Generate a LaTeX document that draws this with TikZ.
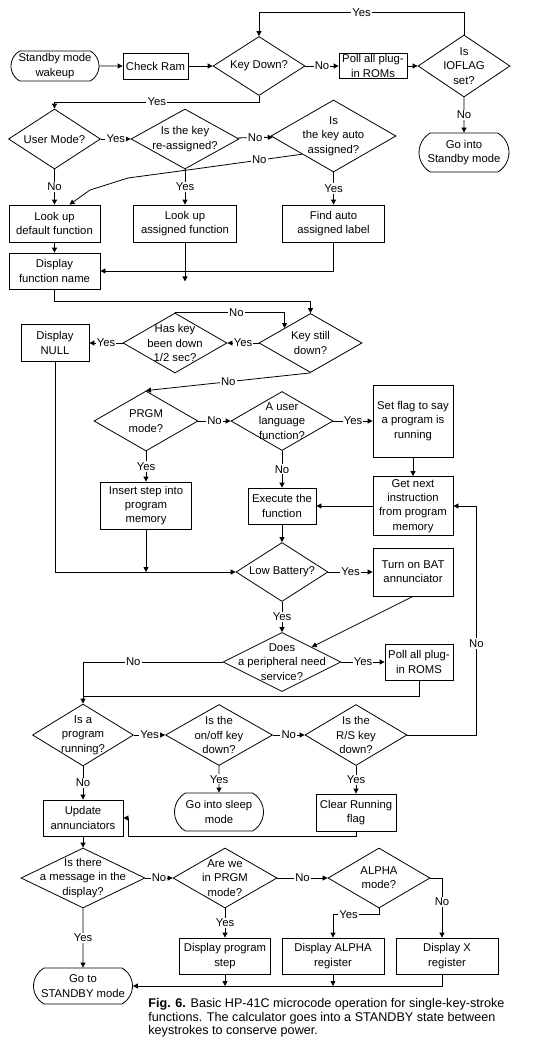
\documentclass[tikz,border=0pt]{standalone}
\usepackage{fontspec}
\setmainfont{Liberation Sans}
\usetikzlibrary{arrows.meta, calc, shapes.geometric, shapes.misc}
\tikzset{
    >={Triangle[length=5pt, width=5pt]}, % punte piene e piccole
    every node/.style={font=\fontsize{11.3}{14.3}\selectfont},
    process/.style={rectangle, draw, align=center, inner sep=1pt}, % blocchi
    terminal/.style={rounded rectangle, rounded rectangle arc length=120, draw, align=center, inner sep=1pt},
    decision/.style={diamond, draw, inner sep=0pt, label={[align=center]center:#1}}, % rombi
    wh/.style 2 args={minimum width=#1, minimum height=#2},
    yn/.style={fill=white, inner sep=1.2pt}, % etichette Yes/No
}

\begin{document}
\begin{tikzpicture}[x=1pt, y=-1pt, line width=0.8pt]
    \useasboundingbox (0,0) rectangle (551,1057);

    % Avvio e lettura tastiera
    \node[terminal, wh={90}{30}] (wake) at (55,66) {Standby mode\\wakeup};
    \node[process, wh={65}{26}] (ram) at (155.5,66) {Check Ram};
    \node[decision={Key Down?}, wh={92}{59}] (keydown) at (259,66) {};
    \node[process, wh={68}{25}] (poll) at (373,66) {Poll all plug-\\in ROMs};
    \node[decision={Is\\IOFLAG\\set?}, wh={92}{62}] (ioflag) at (464,66) {};
    \node[terminal, wh={92}{39}] (standby) at (464,152.5) {Go into\\Standby mode};

    % Ricerca della funzione
    \node[decision={User Mode?}, wh={92}{60}] (usermode) at (54.5,139) {};
    \node[decision={Is the key\\re-assigned?}, wh={108}{60}] (reassign) at (185,139) {};
    \node[decision={Is\\the key auto\\assigned?}, wh={125}{72}] (autoq) at (333.5,136) {};
    \node[process, wh={91}{37}] (default) at (54.5,223.5) {Look up\\default function};
    \node[process, wh={103}{37}] (assigned) at (185,223.5) {Look up\\assigned function};
    \node[process, wh={102}{37}] (autolbl) at (333.5,223.5) {Find auto\\assigned label};
    \node[process, wh={91}{36}] (dispname) at (54.5,271) {Display\\function name};

    % Tasto ancora premuto
    \node[decision={Key still\\down?}, wh={103}{59}] (still) at (310.5,343) {};
    \node[decision={Has key\\been down\\1/2 sec?}, wh={104}{60}] (halfsec) at (175,343) {};
    \node[process, wh={68}{37}] (null) at (55,343) {Display\\NULL};

    % Esecuzione
    \node[decision={PRGM\\mode?}, wh={104}{60}] (prgm) at (146,421) {};
    \node[decision={A user\\language\\function?}, wh={102}{59}] (userlang) at (282,421) {};
    \node[process, wh={80}{72}] (setflag) at (413,421) {Set flag to say\\a program is\\running};
    \node[process, wh={80}{59}] (getnext) at (413,506) {Get next\\instruction\\from program\\memory};
    \node[process, wh={68}{36}] (execute) at (282,506) {Execute the\\function};
    \node[process, wh={91}{47}] (insert) at (146,505.5) {Insert step into\\program\\memory};

    % Batteria e periferiche
    \node[decision={Low Battery?}, wh={92}{59}] (lowbat) at (282,572) {};
    \node[process, wh={80}{48}] (batann) at (413,572) {Turn on BAT\\annunciator};
    \node[decision={Does\\a peripheral need\\service?}, wh={118}{59}] (periph) at (282,662) {};
    \node[process, wh={68}{36}] (poll2) at (419,662) {Poll all plug-\\in ROMS};

    % Programma in corso
    \node[decision={Is a\\program\\running?}, wh={101}{62}] (running) at (83,735) {};
    \node[decision={Is the\\on/off key\\down?}, wh={107}{61}] (onoff) at (219,735) {};
    \node[decision={Is the\\R/S key\\down?}, wh={102}{61}] (rskey) at (356,735) {};
    \node[process, wh={80}{36}] (update) at (83,818) {Update\\annunciators};
    \node[terminal, wh={91}{38}] (sleep) at (219,812) {Go into sleep\\mode};
    \node[process, wh={80}{37}] (clear) at (356,812.5) {Clear Running\\flag};

    % Display
    \node[decision={Is there\\a message in the\\display?}, wh={124}{60}] (message) at (83,878) {};
    \node[decision={Are we\\in PRGM\\mode?}, wh={104}{60}] (areprgm) at (225,878) {};
    \node[decision={ALPHA\\mode?}, wh={102}{60}] (alpha) at (379,878) {};
    \node[process, wh={91}{36}] (dispstep) at (225,956) {Display program\\step};
    \node[process, wh={102}{36}] (dispalpha) at (333,956) {Display ALPHA\\register};
    \node[process, wh={102}{36}] (dispx) at (447,956) {Display X\\register};
    \node[terminal, wh={101}{36}] (gostandby) at (83,986) {Go to\\STANDBY mode};

    % Didascalia
    \node[anchor=north west, align=left, inner sep=0pt, font=\fontsize{12.6}{13.6}\selectfont] (caption) at (148,998) {\textbf{Fig. 6.} Basic HP-41C microcode operation for single-key-stroke\\functions. The calculator goes into a STANDBY state between\\keystrokes to conserve power.};

    % Collegamenti in alto
    \draw[->] (wake) -- (ram);
    \draw[->] (ram) -- (keydown);
    \draw[->] (keydown) -- node[yn]{No} (poll);
    \draw[->] (poll) -- (ioflag);
    \draw[->] (ioflag.north) -- ++(0,-22) -| node[yn, pos=0.25]{Yes} (keydown.north);
    \draw[->] (ioflag) -- node[yn]{No} (standby);
    \draw[->] (keydown.south) -- ++(0,6) -| node[yn, pos=0.25]{Yes} (usermode.north);
    \draw[->] (usermode) -- node[yn]{Yes} (reassign);
    \draw[->] (reassign) -- node[yn]{No} (autoq);
    \draw[->] (autoq.south west) -- node[yn, pos=0.4]{No} (195,169) -- (128,178) -- (90,190) -- ($(default.north)+(15,0)$);
    \draw[->] (usermode) -- node[yn]{No} (default);
    \draw[->] (reassign) -- node[yn]{Yes} (assigned);
    \draw[->] (autoq) -- node[yn]{Yes} (autolbl);
    \draw[->] (default) -- (dispname);
    \draw[->] (autolbl.south) |- (dispname.east);
    \coordinate (assignedend) at ($(assigned.south)+(0,39)$);
    \draw[->] (assigned) -- (assignedend);

    % Collegamenti centrali
    \draw[->] (dispname.south) -- ++(0,12) -| (still.north);
    \draw[->] (halfsec.north) -| node[yn, pos=0.28]{No} (still.north west);
    \draw[->] (still) -- node[yn]{Yes} (halfsec);
    \draw[->] (halfsec) -- node[yn]{Yes} (null);
    \draw[->] (null.south) |- (lowbat.west);
    \draw[->] (still.south) -- node[yn]{No} (prgm.north);
    \draw[->] (prgm) -- node[yn]{No} (userlang);
    \draw[->] (userlang) -- node[yn]{Yes} (setflag);
    \draw[->] (setflag) -- (getnext);
    \draw[->] (getnext) -- (execute);
    \draw[->] (userlang) -- node[yn]{No} (execute);
    \draw[->] (prgm) -- node[yn]{Yes} (insert);
    \draw[->] (insert.south) -- (insert.south |- lowbat.west);
    \draw[->] (execute) -- (lowbat);
    \draw[->] (lowbat) -- node[yn]{Yes} (batann);
    \draw[->] (batann.south) -- (periph.north east);
    \draw[->] (lowbat) -- node[yn]{Yes} (periph);
    \draw[->] (periph) -- node[yn]{Yes} (poll2);
    \draw[->] (periph.west) -| node[yn, pos=0.32]{No} (running.north);
    \draw (poll2.south) |- ($(running.north)+(0,-7)$);

    % Collegamenti in basso
    \draw[->] (running) -- node[yn]{Yes} (onoff);
    \draw[->] (onoff) -- node[yn]{No} (rskey);
    \draw[->] (rskey.east) -- ++(69,0) |- node[yn, pos=0.2]{No} (getnext.east);
    \draw[->] (running) -- node[yn]{No} (update);
    \draw[->] (onoff) -- node[yn]{Yes} (sleep);
    \draw[->] (rskey) -- node[yn]{Yes} (clear);
    \draw[->] (clear.south) -- ++(0,5) -| ($(update.east)+(5,0)$) -- (update.east);
    \draw[->] (update) -- (message);
    \draw[->] (message) -- node[yn]{No} (areprgm);
    \draw[->] (areprgm) -- node[yn]{No} (alpha);
    \draw[->] (alpha.east) -| node[yn, pos=0.7]{No} ($(dispx.north)+(-5,0)$);
    \draw[->] (alpha.south) -- ++(0,6) -| node[yn, pos=0.33]{Yes} (dispalpha.north);
    \draw[->] (areprgm) -- node[yn]{Yes} (dispstep);
    \draw[->] (message) -- node[yn]{Yes} (gostandby);
    \draw[->] ($(dispx.south)+(-5,0)$) |- (gostandby.east);
    \draw[->] (dispstep.south) -- (dispstep.south |- gostandby.east);
    \draw[->] (dispalpha.south) -- (dispalpha.south |- gostandby.east);
\end{tikzpicture}
\end{document}
